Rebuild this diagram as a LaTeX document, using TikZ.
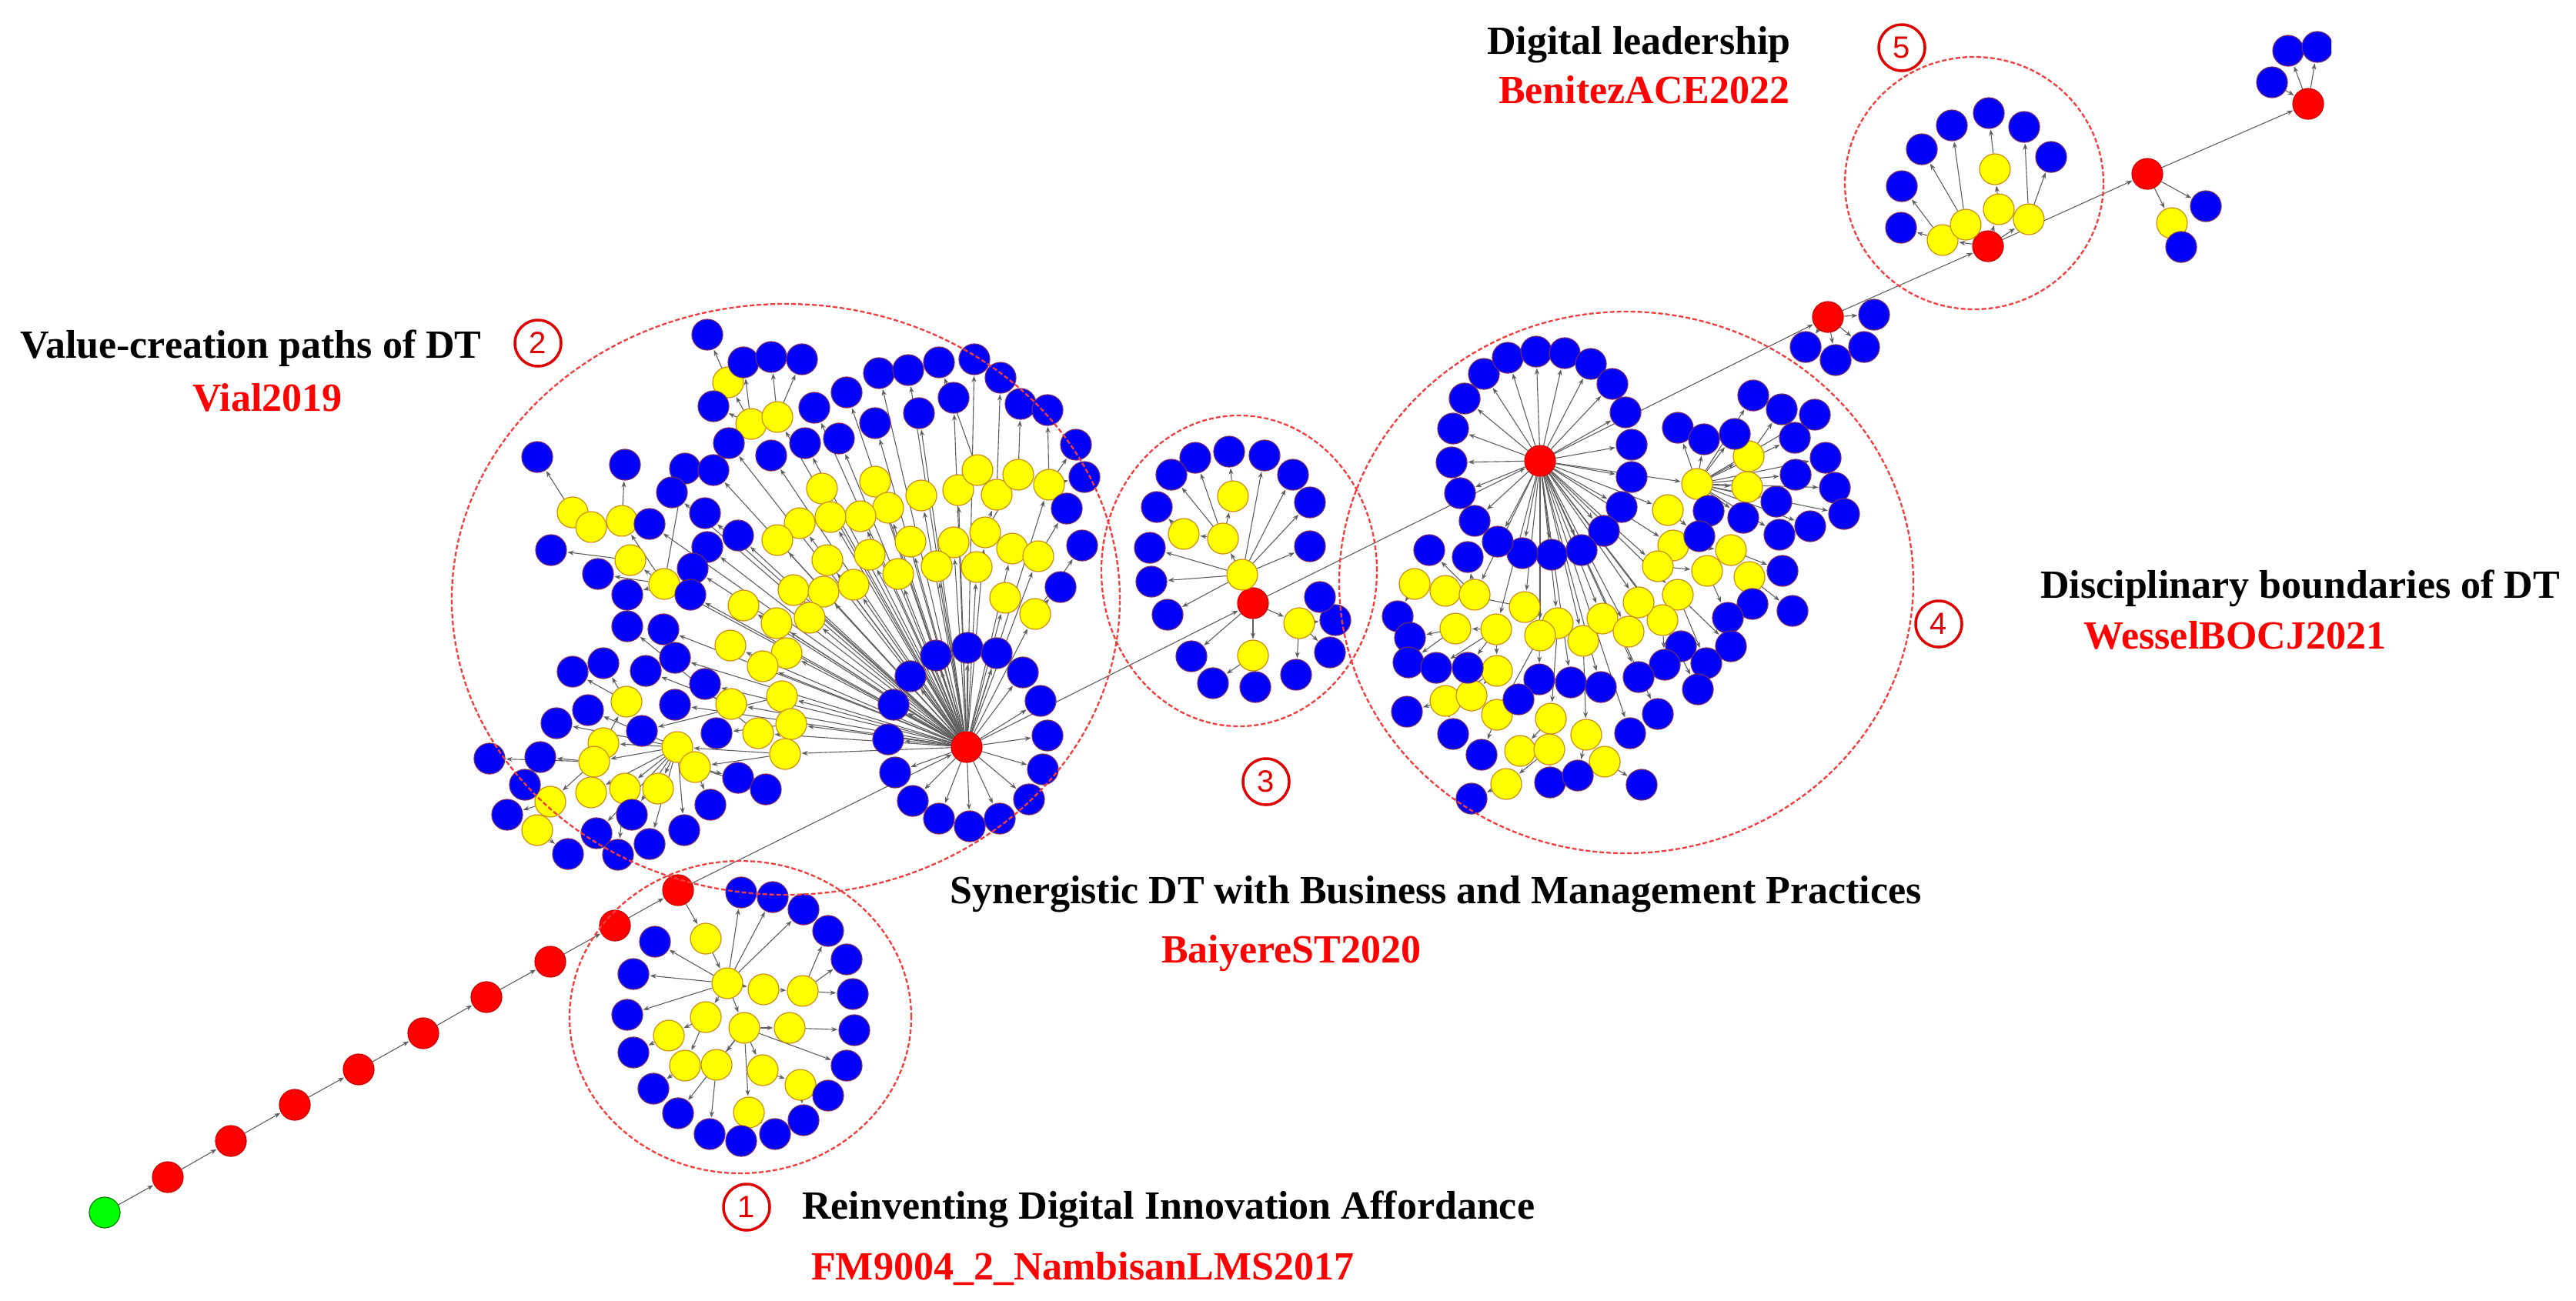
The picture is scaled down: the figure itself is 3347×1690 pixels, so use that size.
\documentclass[tikz,border=0pt]{standalone}
\usepackage{fontspec}
\setmainfont{Liberation Serif}
\newfontfamily\numfont{Liberation Sans}
\usetikzlibrary{arrows.meta}
\pgfdeclarelayer{bg}
\pgfsetlayers{bg,main}
\definecolor{nblue}{RGB}{0,0,250}
\definecolor{nblueb}{RGB}{110,40,110}
\definecolor{nyel}{RGB}{255,255,0}
\definecolor{nyelb}{RGB}{205,140,20}
\definecolor{nred}{RGB}{255,0,0}
\definecolor{ngreen}{RGB}{0,255,0}
\definecolor{egray}{RGB}{95,95,95}
\definecolor{dred}{RGB}{245,60,60}
\definecolor{tred}{RGB}{225,0,0}
\definecolor{lred}{RGB}{255,0,0}
\begin{document}
\begin{tikzpicture}[x=1pt,y=-1pt,
 nd/.style={circle,minimum size=40pt,inner sep=0pt,line width=1.2pt},
 bn/.style={nd,fill=nblue,draw=nblueb},
 yn/.style={nd,fill=nyel,draw=nyelb},
 rn/.style={nd,fill=nred,draw=nred!80!black},
 gn/.style={nd,fill=ngreen,draw=green!50!black},
 ed/.style={draw=egray,line width=1.1pt,-{Stealth[length=8pt,width=6pt]},shorten >=1pt},
 cl/.style={draw=dred,line width=2.3pt,dash pattern=on 6pt off 3pt},
 num/.style={circle,draw=tred,line width=3.5pt,minimum width=60pt,inner sep=0pt,text=tred,font=\numfont\fontsize{40}{44}\selectfont},
 lab/.style={inner sep=0pt,anchor=base west,font=\fontsize{52}{60}\selectfont\bfseries},
 ref/.style={lab,text=lred}]
\useasboundingbox (0,0) rectangle (3347,1690);
\begin{pgfonlayer}{bg}
\fill[white] (0,0) rectangle (3347,1690);
\end{pgfonlayer}

% ---------------- main chain ----------------
\node[gn] (g0) at (136,1576) {};
\foreach \n/\x/\y in {c1/218/1530,c2/300/1483,c3/383/1436,c4/466/1390,c5/550/1343,c6/632/1296,c7/715/1250,c8/799/1203,c9/881/1157}
  {\node[rn] (\n) at (\x,\y) {};}
\node[rn] (H2) at (1256,971) {};
\node[rn] (H3) at (1628,784) {};
\node[rn] (H4) at (2001,599) {};
\node[rn] (k1) at (2375,412) {};
\node[rn] (H5) at (2583,320) {};
\node[rn] (k2) at (2790,226) {};
\node[rn] (k3) at (2999,135) {};

% ---------------- cluster 1 ----------------
\foreach \n/\x/\y in {a1/917/1220,a2/945/1278,a3/992/1286,a4/1043/1288,a5/917/1322,a6/967/1336,a7/1026/1336,a8/869/1346,a9/890/1385,a10/931/1384,a11/991/1391,a12/1040/1410,a13/973/1446}
  {\node[yn] (\n) at (\x,\y) {};}
\foreach \n/\x/\y in {b1/963/1160,b2/1004/1166,b3/1044/1182,b4/1076/1210,b5/1100/1247,b6/1108/1292,b7/1110/1339,b8/1100/1385,b9/1076/1424,b10/1044/1456,b11/1007/1474,b12/963/1483,b13/922/1474,b14/881/1447,b15/849/1415,b16/823/1368,b17/815/1319,b18/823/1266,b19/851/1224}
  {\node[bn] (\n) at (\x,\y) {};}

% ---------------- cluster 2 ----------------
\foreach \n/\x/\y in {q1/946/497,q2/976/551,q3/1010/542,
 y1/1068/635,y2/1137/626,y3/1197/644,y4/1245/637,y5/1270/611,y6/1295/643,y7/1323/617,y8/1363/630,y9/1154/660,y10/1118/671,y11/1079/672,y12/1039/680,y13/1010/702,y14/1183/704,y15/1239/705,y16/1280/692,y17/1315/713,y18/1349/723,y19/1075/728,y20/1130/721,y21/1167/746,y22/1217/736,y23/1269/737,y24/1306/777,y25/1345/798,y26/1031/767,y27/1070/769,y28/1109/760,y29/966/787,y30/1009/810,y31/1052/803,y32/949/839,y33/1022/849,y34/991/866,
 m1/744/666,m2/768/685,m3/808/677,m4/819/728,m5/863/759,m6/814/912,m7/950/915,m8/1016/905,m9/1028/941,m10/985/953,m11/784/966,m12/880/971,m13/1020/980,m14/772/990,m15/903/997,m16/715/1042,m17/768/1030,m18/812/1025,m19/855/1025,m20/698/1079}
  {\node[yn] (\n) at (\x,\y) {};}
\foreach \n/\x/\y in {p1/919/435,p2/966/471,p3/1002/464,p4/1042/467,p5/927/528,p6/947/576,p7/1002/592,p8/1058/530,p9/1100/510,p10/1142/485,p11/1180/481,p12/1220/471,p13/1266/467,p14/1300/491,p15/1239/517,p16/1194/537,p17/1137/550,p18/1046/576,p19/1090/570,p20/1326/525,p21/1361/533,p22/1398/578,p23/1409/620,p24/1386/661,p25/1406/709,p26/1378/763,
 l1/698/594,l2/812/604,l3/890/609,l4/927/611,l5/873/640,l6/844/681,l7/916/667,l8/959/696,l9/716/715,l10/919/711,l11/777/746,l12/900/739,l13/815/773,l14/897/773,l15/815/814,l16/862/818,l17/877/855,l18/744/873,l19/784/862,l20/839/872,l21/916/889,l22/764/923,l23/877/916,l24/723/940,l25/834/950,l26/931/953,l27/702/984,l28/636/986,l29/959/1011,l30/995/1026,l31/682/1020,l32/923/1046,l33/659/1059,l34/821/1059,l35/889/1079,l36/775/1083,l37/844/1097,l38/738/1110,l39/803/1111,
 r1/1216/852,r2/1257/842,r3/1295/849,r4/1183/879,r5/1329/874,r6/1161/916,r7/1352/911,r8/1154/961,r9/1361/956,r10/1163/1004,r11/1355/1000,r12/1186/1041,r13/1337/1039,r14/1220/1064,r15/1260/1074,r16/1299/1064}
  {\node[bn] (\n) at (\x,\y) {};}

% ---------------- cluster 3 ----------------
\foreach \n/\x/\y in {e0/1614/747,e1/1589/700,e2/1538/694,e3/1602/645,e4/1688/810,e5/1628/852}
  {\node[yn] (\n) at (\x,\y) {};}
\foreach \n/\x/\y in {f1/1553/595,f2/1597/587,f3/1643/592,f4/1680/617,f5/1702/653,f6/1702/710,f7/1522/617,f8/1503/659,f9/1494/712,f10/1496/756,f11/1517/799,f12/1548/853,f13/1576/888,f14/1631/893,f15/1684/877,f16/1728/848,f17/1735/806,f18/1715/776}
  {\node[bn] (\n) at (\x,\y) {};}

% ---------------- cluster 4 ----------------
\foreach \n/\x/\y in {u1/2205/629,u2/2272/593,u3/2270/633,u4/2167/663,u5/2174/709,u6/2154/736,u7/2249/715,u8/2218/742,u9/2273/750,u10/2180/773,u11/2160/806,
 w1/1838/759,w2/1878/768,w3/1916/773,w4/1891/817,w5/1944/818,w6/1981/789,w7/2024/810,w8/2001/826,w9/2057/833,w10/2082/804,w11/2116/821,w12/2129/783,w13/1945/872,w14/1878/911,w15/1912/904,w16/1945/929,w17/2015/934,w18/2061/955,w19/1975/976,w20/2013/974,w21/2085/990,w22/1957/1019}
  {\node[yn] (\n) at (\x,\y) {};}
\foreach \n/\x/\y in {s1/1928/486,s2/1959/465,s3/1996/457,s4/2033/459,s5/2067/473,s6/2095/499,s7/2112/536,s8/2120/578,s9/2120/620,s10/2107/659,s11/2084/690,s12/2055/715,s13/2016/721,s14/1978/719,s15/1946/704,s16/1916/677,s17/1897/641,s18/1886/601,s19/1888/557,s20/1903/518,
 t1/2180/556,t2/2214/571,t3/2254/564,t4/2278/514,t5/2315/532,t6/2358/539,t7/2332/569,t8/2372/595,t9/2333/617,t10/2384/634,t11/2308/652,t12/2396/668,t13/2265/673,t14/2220/664,t15/2208/697,t16/2352/684,t17/2312/695,t18/2316/742,t19/2277/785,t20/2329/794,t21/2245/803,t22/2249/840,t23/2184/840,t24/2217/862,t25/2163/864,t26/2206/896,t27/2154/928,t28/2118/953,t29/2129/880,t30/2133/1020,
 v1/1857/715,v2/1907/724,v3/1816/801,v4/1832/829,v5/1830/861,v6/1866/868,v7/1907/868,v8/2000/883,v9/2041/887,v10/2080/893,v11/1973/909,v12/1828/925,v13/1888/954,v14/1925/981,v15/2014/1017,v16/2050/1008,v17/1912/1038}
  {\node[bn] (\n) at (\x,\y) {};}

% ---------------- cluster 5 and top right ----------------
\foreach \n/\x/\y in {h1/2524/312,h2/2554/292,h3/2597/272,h4/2636/285,h5/2592/220,h6/2822/290}
  {\node[yn] (\n) at (\x,\y) {};}
\foreach \n/\x/\y in {n1/2435/409,n2/2346/451,n3/2385/468,n4/2422/451,j1/2470/296,j2/2471/242,j3/2497/194,j4/2536/163,j5/2584/147,j6/2630/165,j7/2665/204,o1/2866/268,o2/2834/321,o3/2952/107,o4/2973/66}
  {\node[bn] (\n) at (\x,\y) {};}
\begin{scope}
\clip (2900,0) rectangle (3029,200);
\node[bn] (o5) at (3011,61) {};
\end{scope}

% ---------------- edges ----------------
\begin{pgfonlayer}{bg}
\foreach \s/\t in {g0/c1,c1/c2,c2/c3,c3/c4,c4/c5,c5/c6,c6/c7,c7/c8,c8/c9,c9/H2,H2/H3,H3/H4,H4/k1,k1/H5,H5/k2,k2/k3}
  {\draw[ed] (\s) -- (\t);}
% cluster 1
\foreach \s/\t in {c9/a1,a1/a2,a2/b1,a2/b2,a2/b3,a2/b19,a2/b18,a2/b17,a2/a3,a2/a5,a2/a6,a3/a4,a4/b4,a4/b5,a4/b6,a6/a7,a7/b7,a6/b8,a6/a11,a6/a10,a6/a13,a6/b14,a5/a8,a5/a9,a8/b16,a9/b15,a10/b13,a11/a12,a12/b9,a12/b10,a13/b12,a13/b11}
  {\draw[ed] (\s) -- (\t);}
% cluster 2
\foreach \t in {r1,r2,r3,r4,r5,r6,r7,r8,r9,r10,r11,r12,r13,r14,r15,r16,p6,p7,p8,p9,p10,p11,p13,p15,p16,p17,p18,p19,q3,y1,y2,y3,y4,y8,y9,y10,y11,y12,y13,y14,y15,y16,y17,y18,y19,y20,y21,y22,y23,y24,y25,y26,y27,y28,y29,y30,y31,y32,y33,y34,l4,l5,l6,l7,l8,l10,l12,l14,l16,l17,l21,l23,m5,m7,m8,m9,m10,m13}
  {\draw[ed] (H2) -- (\t);}
\foreach \s/\t in {q3/q2,q3/p3,q3/p4,q2/p2,q2/q1,q2/p5,q1/p1,y4/y5,y5/p12,y16/y6,y6/p14,y16/y7,y7/p20,y8/p21,y8/p22,y8/p23,y18/p24,y25/p25,y25/p26,
 m5/m3,m5/m4,m5/l11,m5/l13,m5/l3,m3/l2,m3/m2,m2/m1,m1/l1,m4/l9,m7/l20,m8/l25,m9/l26,m10/l15,
 m13/m12,m13/m15,m15/l29,m15/l30,m15/l32,m12/m11,m12/m14,m12/m17,m12/m18,m12/m19,m12/l22,m12/l24,m12/l34,m12/l35,m12/l36,m12/l37,m11/m6,m6/l18,m6/l19,m14/l27,m14/l28,m14/m16,m16/l31,m16/l33,m16/m20,m20/l38,m18/l39}
  {\draw[ed] (\s) -- (\t);}
% cluster 3
\foreach \s/\t in {H3/e4,H3/e5,H3/f12,e0/f9,e0/f10,e0/f11,e0/e1,e0/f3,e0/f4,e0/f5,e0/f6,e1/e2,e1/f7,e1/f1,e1/e3,e3/f2,e2/f8,e5/f13,e4/f15,e4/f16,e4/f17}
  {\draw[ed] (\s) -- (\t);}
% cluster 4
\foreach \t in {s1,s2,s3,s4,s5,s6,s7,s8,s9,s10,s11,s12,s13,s14,s15,s16,s17,s18,s19,s20,u1,u4,u5,u6,u10,u11,w3,w5,w6,w7,w8,w9,w10,w11,w12,v8,v9,v10,t23,t27,t28,t29}
  {\draw[ed] (H4) -- (\t);}
\foreach \s/\t in {u1/t1,u1/t2,u1/t3,u1/t4,u1/t6,u1/t7,u1/t8,u1/t9,u1/t10,u1/t11,u1/t12,u1/t13,u1/t14,u1/t16,u1/t17,u1/u2,u1/u3,u2/t5,u4/t15,u5/u7,u7/u9,u7/t18,u6/u8,u8/t21,u9/t19,u9/t20,u10/t22,u10/t24,u11/t25,u11/t26,
 w3/v1,w3/v2,w6/w2,w2/w1,w1/v3,w5/w4,w4/v4,w4/v5,w5/v6,w5/v7,w5/w13,w13/w15,w13/w14,w14/v12,w14/v13,w8/w16,w16/v14,w16/v11,w7/w17,w17/w19,w17/w20,w20/w22,w20/v15,w22/v17,w9/w18,w18/w21,w18/v16,w21/t30}
  {\draw[ed] (\s) -- (\t);}
% cluster 5 and right
\foreach \s/\t in {k1/n1,k1/n2,k1/n3,k1/n4,H5/h1,H5/h2,H5/h3,H5/h4,h1/j1,h1/j2,h2/j3,h2/j4,h3/h5,h5/j5,h4/j6,h4/j7,k2/h6,k2/o1,h6/o2,o3/k3,k3/o4,k3/o5}
  {\draw[ed] (\s) -- (\t);}
\end{pgfonlayer}

% ---------------- cluster outlines ----------------
\draw[cl] (962,1322) ellipse [x radius=222pt, y radius=203pt];
\draw[cl] (1021,779) ellipse [x radius=434pt, y radius=384pt];
\draw[cl] (1610,742) ellipse [x radius=179pt, y radius=202pt];
\draw[cl] (2113,757) ellipse [x radius=373pt, y radius=352pt];
\draw[cl] (2565,238) ellipse [x radius=168pt, y radius=164pt];

% ---------------- numbers ----------------
\node[num] (N1) at (970,1569) {1};
\node[num] (N2) at (699,446) {2};
\node[num] (N3) at (1645,1016) {3};
\node[num] (N4) at (2519,811) {4};
\node[num] (N5) at (2471,62) {5};

% ---------------- labels ----------------
\node[lab] (T5) at (1932,70) {Digital leadership};
\node[ref] (R5) at (1947,134) {BenitezACE2022};
\node[lab] (T2) at (26,465) {Value-creation paths of DT};
\node[ref] (R2) at (250,534) {Vial2019};
\node[lab] (T3) at (1234,1174) {Synergistic DT with Business and Management Practices};
\node[ref] (R3) at (1509,1251) {BaiyereST2020};
\node[lab] (T4) at (2651,777) {Disciplinary boundaries of DT};
\node[ref] (R4) at (2707,843) {WesselBOCJ2021};
\node[lab] (T1) at (1042,1584) {Reinventing Digital Innovation Affordance};
\node[ref] (R1) at (1054,1663) {FM9004\_2\_NambisanLMS2017};
\end{tikzpicture}
\end{document}
